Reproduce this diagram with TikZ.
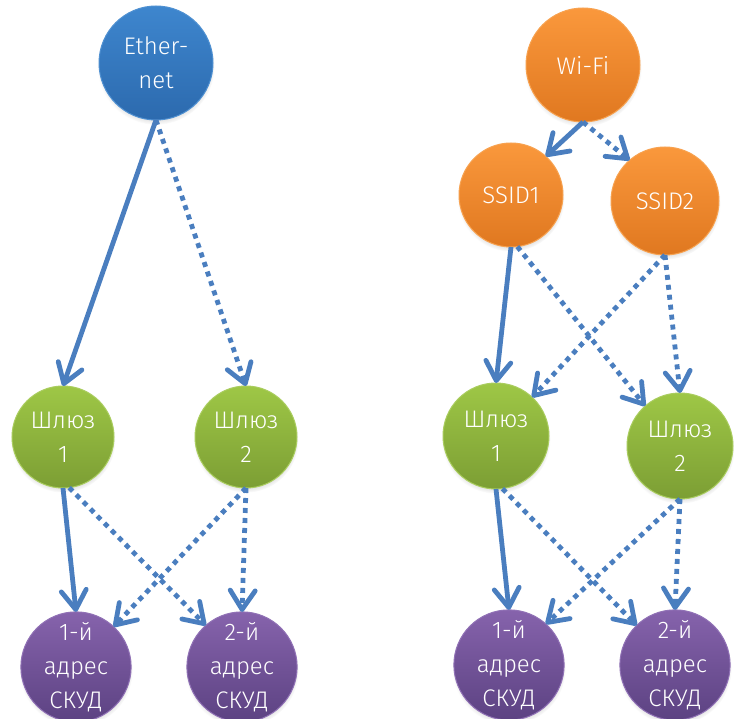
\documentclass[tikz,border=0pt]{standalone}
\usepackage{fontspec}
\setmainfont{Fira Sans}[UprightFont=* Light]
\usetikzlibrary{arrows.meta,shadows}

\definecolor{link}{RGB}{74,126,191}
\definecolor{blueTop}{RGB}{62,134,206}
\definecolor{blueBot}{RGB}{44,106,174}
\definecolor{blueRim}{RGB}{80,145,210}
\definecolor{orangeTop}{RGB}{250,152,60}
\definecolor{orangeBot}{RGB}{224,120,32}
\definecolor{orangeRim}{RGB}{247,162,80}
\definecolor{greenTop}{RGB}{158,199,70}
\definecolor{greenBot}{RGB}{124,158,52}
\definecolor{greenRim}{RGB}{170,205,95}
\definecolor{purpleTop}{RGB}{134,99,172}
\definecolor{purpleBot}{RGB}{92,66,130}
\definecolor{purpleRim}{RGB}{145,114,182}

\tikzset{
  ball/.style={circle, outer sep=0pt, inner sep=0pt, align=center,
    text=white, font=\fontsize{24}{34}\selectfont, line width=1pt,
    circular drop shadow={shadow xshift=0pt, shadow yshift=-3pt,
      shadow scale=1.03, opacity=0.35}},
  netball/.style={ball, minimum size=114pt, draw=blueRim,
    top color=blueTop, bottom color=blueBot},
  ssidball/.style={ball, draw=orangeRim,
    top color=orangeTop, bottom color=orangeBot},
  gwball/.style={ball, draw=greenRim,
    top color=greenTop, bottom color=greenBot},
  accball/.style={ball, minimum size=108pt, draw=purpleRim,
    top color=purpleTop, bottom color=purpleBot},
  link main/.style={draw=link, line width=4.8pt,
    -{Straight Barb[length=19pt,width=25pt,line width=4.8pt,round]}},
  link spare/.style={link main, dash pattern=on 5pt off 5pt}
}

\begin{document}
\begin{tikzpicture}[x=1pt,y=-1pt]
\useasboundingbox (0,0) rectangle (734,719);

% ---- left tree: Ethernet ----
\node[netball] (eth) at (156,63) {Ether-\\net};
\node[gwball, minimum size=102pt] (gwL1) at (63,437) {Шлюз\\1};
\node[gwball, minimum size=102pt] (gwL2) at (246,437) {Шлюз\\2};
\node[accball] (acL1) at (76,667) {1-й\\адрес\\СКУД};
\node[accball] (acL2) at (242,667) {2-й\\адрес\\СКУД};

\draw[link main]  (eth.south) -- (gwL1.north);
\draw[link spare] (eth.south) -- (gwL2.north);
\draw[link main]  (gwL1.south) -- (acL1.north);
\draw[link spare] (gwL1.-83) -- (acL2.131);
\draw[link spare] (gwL2.south) -- (acL1.47);
\draw[link spare] (gwL2.south) -- (acL2.north);

% ---- right tree: Wi-Fi ----
\node[netball, draw=orangeRim, top color=orangeTop, bottom color=orangeBot]
  (wifi) at (583,65) {Wi-Fi};
\node[ssidball, minimum size=104pt] (ssid1) at (511,195) {SSID1};
\node[ssidball, minimum size=108pt] (ssid2) at (665,201) {SSID2};
\node[gwball, minimum size=106pt] (gwR1) at (496,436) {Шлюз\\1};
\node[gwball, minimum size=106pt] (gwR2) at (680,446) {Шлюз\\2};
\node[accball] (acR1) at (509,665) {1-й\\адрес\\СКУД};
\node[accball] (acR2) at (675,665) {2-й\\адрес\\СКУД};

\draw[link main]  (wifi.south) -- (ssid1.48);
\draw[link spare] (wifi.south) -- (ssid2.131);
\draw[link main]  (ssid1.south) -- (gwR1.north);
\draw[link spare] (ssid1.-83) -- (gwR2.131);
\draw[link spare] (ssid2.south) -- (gwR1.47);
\draw[link spare] (ssid2.south) -- (gwR2.north);
\draw[link main]  (gwR1.south) -- (acR1.north);
\draw[link spare] (gwR1.-83) -- (acR2.134);
\draw[link spare] (gwR2.south) -- (acR1.48);
\draw[link spare] (gwR2.south) -- (acR2.north);
\end{tikzpicture}
\end{document}
